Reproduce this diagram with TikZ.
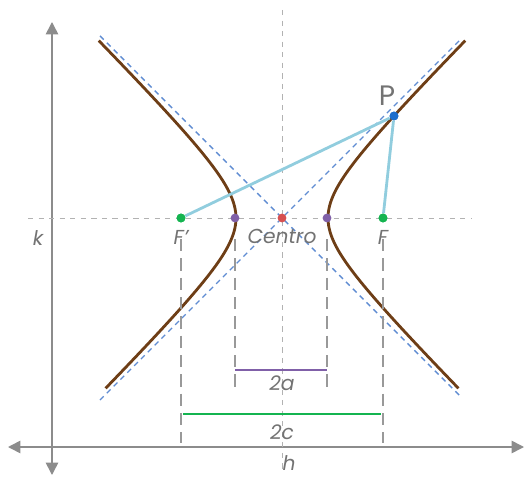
\documentclass[tikz,border=0pt]{standalone}
\usepackage{fontspec}
\setmainfont{Poppins}
\usetikzlibrary{positioning,arrows.meta}
\definecolor{brownc}{RGB}{110,62,22}
\definecolor{asym}{RGB}{95,140,210}
\definecolor{lblue}{RGB}{145,205,222}
\definecolor{greenc}{RGB}{20,180,80}
\definecolor{purplec}{RGB}{128,96,168}
\definecolor{redc}{RGB}{215,80,80}
\definecolor{bluec}{RGB}{30,110,205}
\definecolor{txtgray}{RGB}{115,115,115}
\tikzset{
  axis/.style={draw=gray!90,line width=0.9pt,{Triangle[width=7pt,length=7pt]}-{Triangle[width=7pt,length=7pt]}},
  guide/.style={draw=gray!60,dashed,line width=0.5pt},
  drop/.style={draw=gray!80,line width=1.1pt,dash pattern=on 7pt off 4pt},
  dot/.style={circle,inner sep=0pt,minimum size=5pt},
  lbl/.style={text=txtgray,font=\itshape\fontsize{11.5}{13}\selectfont}
}

\begin{document}
\begin{tikzpicture}[x=0.02cm,y=-0.02cm]
\useasboundingbox (0,0) rectangle (530,479);
% axes
\draw[axis] (52,475) -- (52,22);
\draw[axis] (8,447) -- (524,447);
% guide lines through centre
\draw[guide] (28,218) -- (472,218);
\draw[guide] (282,10) -- (282,470);
% asymptotes
\draw[asym,dash pattern=on 3pt off 2.5pt,line width=0.8pt] (100,36) -- (460,396);
\draw[asym,dash pattern=on 3pt off 2.5pt,line width=0.8pt] (100,400) -- (462,38);
% hyperbola branches
\draw[brownc,line width=1.6pt,domain=-2.02:2.06,samples=60,variable=\t]
  plot ({282+46*cosh(\t)},{218-46*sinh(\t)});
\draw[brownc,line width=1.6pt,domain=-2.02:2.06,samples=60,variable=\t]
  plot ({282-46*cosh(\t)},{218-46*sinh(\t)});
% points
\node[dot,fill=redc] (C) at (282,218) {};
\node[dot,fill=purplec] (V1) at (235,218) {};
\node[dot,fill=purplec] (V2) at (327,218) {};
\node[dot,fill=greenc] (F1) at (181,218) {};
\node[dot,fill=greenc] (F2) at (383,218) {};
\node[dot,fill=bluec] (P) at (394,116) {};
% focal radii
\draw[lblue,line width=1.6pt] (F1) -- (P) -- (F2);
\node[dot,fill=bluec] at (P) {};
\node[dot,fill=greenc] at (F1) {};
\node[dot,fill=greenc] at (F2) {};
% labels
\node[text=txtgray,font=\fontsize{16}{18}\selectfont] (Plbl) at (387,96) {P};
\node[lbl,below=1pt of F1] (F1lbl) {F'};
\node[lbl,below=1pt of F2] (F2lbl) {F};
\node[lbl,below=0pt of C] (Clbl) {Centro};
\node[lbl] (klbl) at (38,238) {k};
\node[lbl] (hlbl) at (289,463) {h};
% distances
\coordinate (V1b) at (235,388);
\coordinate (V2b) at (327,388);
\coordinate (F1b) at (181,443);
\coordinate (F2b) at (383,443);
\draw[drop] ([yshift=-12pt]V1.center) -- (V1b);
\draw[drop] ([yshift=-12pt]V2.center) -- (V2b);
\draw[drop] ([yshift=-12pt]F1.center) -- (F1b);
\draw[drop] ([yshift=-12pt]F2.center) -- (F2b);
\draw[purplec,line width=1.6pt] (235,370) -- (327,370);
\node[lbl] (alen) at (282,383) {2a};
\draw[greenc,line width=1.6pt] (183,414) -- (381,414);
\node[lbl] (clen) at (282,432) {2c};
\end{tikzpicture}
\end{document}
